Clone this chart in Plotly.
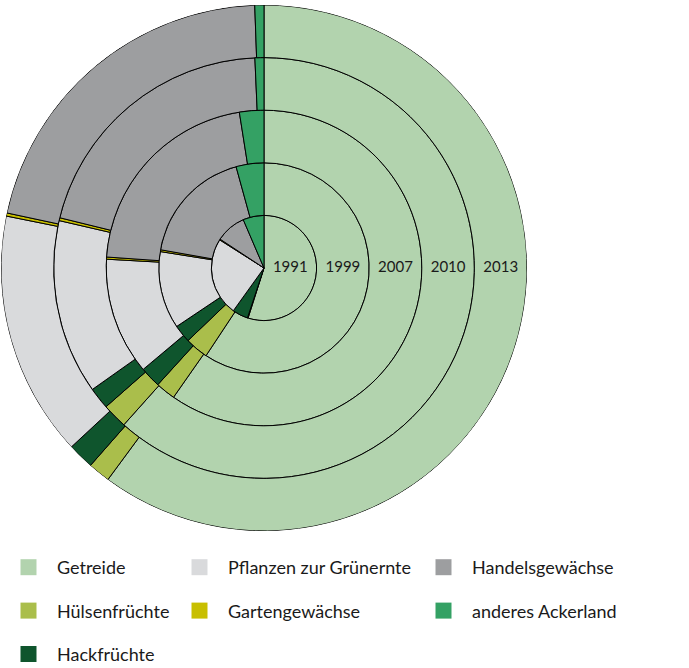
import plotly.graph_objects as go
import numpy as np

W, H = 689, 668

years = ["1991", "1999", "2007", "2010", "2013"]
categories = ["Getreide", "Hülsenfrüchte", "Hackfrüchte", "Pflanzen zur Grünernte",
              "Gartengewächse", "Handelsgewächse", "anderes Ackerland"]

# shares of arable land in % (per year, 1991..2013)
getreide = [54.90, 59.30, 59.72, 61.61, 60.11]
huelsenfruechte = [0.20, 3.56, 2.03, 1.92, 1.36]
hackfruechte = [4.80, 2.75, 2.14, 1.67, 1.61]
gruenernte = [24.10, 11.89, 12.00, 13.42, 15.08]
gartengewaechse = [0.25, 0.28, 0.22, 0.22, 0.19]
handelsgewaechse = [9.30, 17.94, 21.39, 20.47, 21.08]
anderes = [6.45, 4.28, 2.50, 0.69, 0.56]

series = [getreide, huelsenfruechte, hackfruechte, gruenernte,
          gartengewaechse, handelsgewaechse, anderes]
colors = ["#b2d3ae", "#aabe4b", "#0f552d", "#d9dadc", "#c8bf00", "#9d9ea0", "#34a164"]

# legend columns (column-major layout of the original)
legend_of = ["legend", "legend", "legend", "legend2", "legend2", "legend3", "legend3"]

vals = np.array(series, dtype=float)           # [cat, year]
totals = vals.sum(axis=0)
deg = vals / totals * 360.0
cum = np.cumsum(deg, axis=0)
mid = cum - deg / 2.0

ring_base = list(range(len(years)))

fig = go.Figure()
for i, cat in enumerate(categories):
    fig.add_trace(go.Barpolar(
        r=[1] * len(years),
        base=ring_base,
        theta=mid[i].tolist(),
        width=deg[i].tolist(),
        marker=dict(color=colors[i], line=dict(color="black", width=1)),
        name=cat,
        legendgroup=cat,
        showlegend=False,
        customdata=vals[i],
        hovertemplate="%{customdata:.1f} %<extra>" + cat + "</extra>",
    ))

# legend entries (square symbols)
for i, cat in enumerate(categories):
    fig.add_trace(go.Scatterpolar(
        r=[None], theta=[None], mode="markers",
        marker=dict(symbol="square", size=17, color=colors[i]),
        name=cat, legendgroup=cat, legend=legend_of[i], showlegend=True,
    ))

# year labels along the 3 o'clock radius
fig.add_trace(go.Scatterpolar(
    r=[b + 0.5 for b in ring_base], theta=[90] * len(years),
    mode="text", text=years,
    textfont=dict(family="Lato, sans-serif", size=15, color="#1a1a1a"),
    textposition="middle center", showlegend=False, hoverinfo="skip",
))

cx, cy, R = 264, 268, 263
font = dict(family="Lato, sans-serif", size=18, color="#1a1a1a")
leg_common = dict(orientation="v", bgcolor="rgba(0,0,0,0)", borderwidth=0,
                  font=font, tracegroupgap=17, yanchor="top", xanchor="left",
                  itemsizing="trace", itemwidth=47)
leg_top = 1 - 549 / H
fig.update_layout(
    width=W, height=H,
    margin=dict(l=0, r=0, t=0, b=0, autoexpand=False),
    paper_bgcolor="white",
    plot_bgcolor="white",
    polar=dict(
        domain=dict(x=[(cx - R) / W, (cx + R) / W], y=[1 - (cy + R) / H, 1 - (cy - R) / H]),
        bgcolor="rgba(0,0,0,0)",
        hole=0,
        radialaxis=dict(range=[0, len(years)], visible=False),
        angularaxis=dict(direction="clockwise", rotation=90, visible=False),
    ),
    legend=dict(x=0, y=leg_top, **leg_common),
    legend2=dict(x=171 / W, y=leg_top, **leg_common),
    legend3=dict(x=415 / W, y=leg_top, **leg_common),
    showlegend=True,
)

fig.write_html("out.html", config={"displayModeBar": False},
               post_script="document.body.style.margin='0px';document.body.style.overflow='hidden';")
